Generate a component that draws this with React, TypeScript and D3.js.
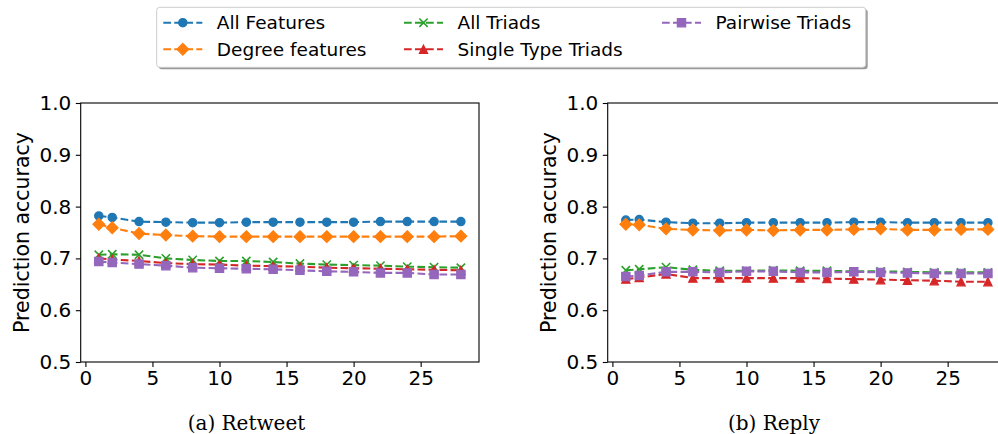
import React, { useEffect, useRef } from "react";
import * as d3 from "d3";

const xs = [1, 2, 4, 6, 8, 10, 12, 14, 16, 18, 20, 22, 24, 26, 28];
const xTicks = [0, 5, 10, 15, 20, 25];
const yTicks = [0.5, 0.6, 0.7, 0.8, 0.9, 1.0];

// Retweet
const retweetAll = [0.782, 0.779, 0.771, 0.770, 0.769, 0.769, 0.770, 0.770, 0.770, 0.770, 0.770, 0.771, 0.771, 0.771, 0.771];
const retweetDegree = [0.766, 0.759, 0.748, 0.745, 0.743, 0.742, 0.742, 0.742, 0.742, 0.742, 0.742, 0.742, 0.742, 0.742, 0.743];
const retweetTriads = [0.707, 0.708, 0.707, 0.700, 0.697, 0.695, 0.695, 0.693, 0.690, 0.688, 0.687, 0.686, 0.684, 0.683, 0.682];
const retweetSingle = [0.700, 0.698, 0.695, 0.691, 0.689, 0.688, 0.686, 0.685, 0.684, 0.682, 0.681, 0.680, 0.679, 0.678, 0.677];
const retweetPairwise = [0.694, 0.692, 0.689, 0.686, 0.682, 0.681, 0.680, 0.679, 0.677, 0.675, 0.674, 0.672, 0.672, 0.669, 0.669];

// Reply
const replyAll = [0.774, 0.775, 0.770, 0.768, 0.768, 0.769, 0.769, 0.769, 0.769, 0.770, 0.770, 0.769, 0.769, 0.769, 0.769];
const replyDegree = [0.766, 0.765, 0.757, 0.755, 0.754, 0.755, 0.754, 0.755, 0.755, 0.756, 0.757, 0.755, 0.755, 0.756, 0.756];
const replyTriads = [0.677, 0.679, 0.683, 0.678, 0.676, 0.676, 0.677, 0.676, 0.676, 0.675, 0.675, 0.674, 0.673, 0.673, 0.673];
const replySingle = [0.660, 0.663, 0.670, 0.662, 0.662, 0.662, 0.662, 0.662, 0.661, 0.660, 0.659, 0.658, 0.657, 0.655, 0.655];
const replyPairwise = [0.665, 0.667, 0.674, 0.674, 0.673, 0.675, 0.675, 0.673, 0.673, 0.674, 0.673, 0.672, 0.671, 0.671, 0.671];

const seriesNames = ["All Features", "Degree features", "All Triads", "Single Type Triads", "Pairwise Triads"];
const colors = ["#1f77b4", "#ff7f0e", "#2ca02c", "#d62728", "#9467bd"];
const markers = ["circle", "diamond", "x", "triangle", "square"];

const FONT = "'DejaVu Sans', sans-serif";
const MS = 8.3; // marker size px

const markerPath = (type: string) => {
  const h = MS / 2;
  switch (type) {
    case "circle":
      return d3.symbol(d3.symbolCircle, Math.PI * h * h)();
    case "square":
      return `M${-h},${-h}H${h}V${h}H${-h}Z`;
    case "diamond": {
      const d = h * Math.SQRT2;
      return `M0,${-d}L${d},0L0,${d}L${-d},0Z`;
    }
    case "triangle":
      return `M0,${-h}L${h},${h}L${-h},${h}Z`;
    default:
      return `M${-h},${-h}L${h},${h}M${-h},${h}L${h},${-h}`;
  }
};

const drawMarker = (g: any, type: string, color: string, x: number, y: number) => {
  g.append("path")
    .attr("d", markerPath(type))
    .attr("transform", `translate(${x},${y})`)
    .attr("fill", type === "x" ? "none" : color)
    .attr("stroke", color)
    .attr("stroke-width", type === "x" ? 1.6 : 1.2);
};

const drawPanel = (svg: any, left: number, right: number, data: number[][], title: string, titleX: number) => {
  const top = 103;
  const bottom = 362;
  const xScale = d3.scaleLinear().domain([-0.35, 29.35]).range([left, right]);
  const yScale = d3.scaleLinear().domain([0.5, 1.0]).range([bottom, top]);
  const g = svg.append("g");

  const line = d3
    .line<number>()
    .x((_, i) => xScale(xs[i]))
    .y((d) => yScale(d));

  data.forEach((vals, si) => {
    g.append("path")
      .attr("d", line(vals))
      .attr("fill", "none")
      .attr("stroke", colors[si])
      .attr("stroke-width", 2.1)
      .attr("stroke-dasharray", "7.7,3.3");
    vals.forEach((v, i) => drawMarker(g, markers[si], colors[si], xScale(xs[i]), yScale(v)));
  });

  // spines
  g.append("rect")
    .attr("x", left)
    .attr("y", top)
    .attr("width", right - left)
    .attr("height", bottom - top)
    .attr("fill", "none")
    .attr("stroke", "#000")
    .attr("stroke-width", 1.1);

  const xAxis = d3.axisBottom(xScale).tickValues(xTicks).tickSize(4.9).tickPadding(3.5).tickFormat(d3.format("d"));
  const yAxis = d3.axisLeft(yScale).tickValues(yTicks).tickSize(4.9).tickPadding(4.5).tickFormat(d3.format(".1f"));

  const gx = g.append("g").attr("transform", `translate(0,${bottom})`).call(xAxis);
  const gy = g.append("g").attr("transform", `translate(${left},0)`).call(yAxis);
  [gx, gy].forEach((ax) => {
    ax.select(".domain").remove();
    ax.selectAll("line").attr("stroke", "#000").attr("stroke-width", 1.1);
    ax.selectAll("text").attr("fill", "#000").style("font-family", FONT).style("font-size", "20px");
  });

  g.append("text")
    .attr("transform", `translate(${left - 52},${(top + bottom) / 2}) rotate(-90)`)
    .attr("text-anchor", "middle")
    .style("font-family", FONT)
    .style("font-size", "20.5px")
    .text("Prediction accuracy");

  g.append("text")
    .attr("x", titleX)
    .attr("y", 430)
    .attr("text-anchor", "middle")
    .style("font-family", "'DejaVu Serif', serif")
    .style("font-size", "20px")
    .text(title);
};

export default function App() {
  const svgRef = useRef<SVGSVGElement>(null);

  useEffect(() => {
    const svg = d3.select(svgRef.current);
    svg.selectAll("*").remove();

    drawPanel(svg, 80.7, 479, [retweetAll, retweetDegree, retweetTriads, retweetSingle, retweetPairwise], "(a) Retweet", 246.5);
    drawPanel(svg, 607.7, 1006, [replyAll, replyDegree, replyTriads, replySingle, replyPairwise], "(b) Reply", 774);

    // legend
    const lg = svg.append("g");
    lg.append("rect")
      .attr("x", 158.7)
      .attr("y", 9.3)
      .attr("width", 709)
      .attr("height", 60)
      .attr("rx", 3)
      .attr("fill", "#808080")
      .attr("opacity", 0.8);
    lg.append("rect")
      .attr("x", 156.7)
      .attr("y", 7.3)
      .attr("width", 709)
      .attr("height", 60)
      .attr("rx", 3)
      .attr("fill", "#fff")
      .attr("stroke", "#cccccc")
      .attr("stroke-width", 1);

    const cols = [163.3, 404, 662];
    const rows = [22.7, 49.3];
    seriesNames.forEach((name, i) => {
      const cx = cols[Math.floor(i / 2)];
      const cy = rows[i % 2];
      lg.append("line")
        .attr("x1", cx)
        .attr("x2", cx + 39)
        .attr("y1", cy)
        .attr("y2", cy)
        .attr("stroke", colors[i])
        .attr("stroke-width", 2.1)
        .attr("stroke-dasharray", "7.7,3.3");
      drawMarker(lg, markers[i], colors[i], cx + 19.5, cy);
      lg.append("text")
        .attr("x", cx + 53.5)
        .attr("y", cy + 6.5)
        .style("font-family", FONT)
        .style("font-size", "18.5px")
        .text(name);
    });
  }, []);

  return (
    <div style={{ position: "absolute", left: 0, top: 0 }}>
      <svg ref={svgRef} width={998} height={434} style={{ display: "block", background: "#fff" }} />
    </div>
  );
}
